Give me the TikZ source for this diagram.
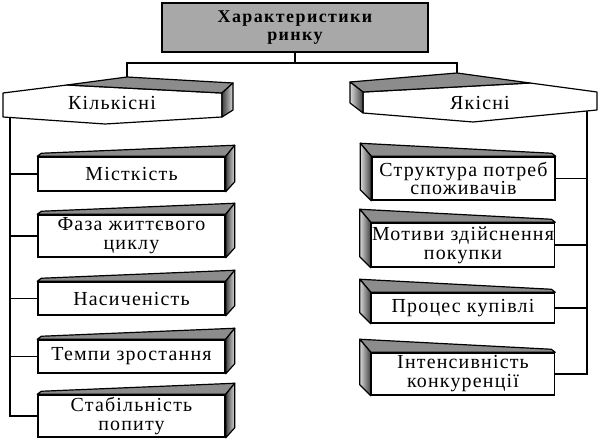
\documentclass[tikz,border=0pt]{standalone}
\usepackage{fontspec}
\setmainfont{Liberation Serif}[LetterSpace=6]
\usepackage{tikz}
\usetikzlibrary{positioning}

\tikzset{
  card/.style={draw, line width=1.5pt, fill=white, minimum width=187bp, inner sep=0pt, align=center, font=\fontsize{20}{19}\selectfont},
  rcard/.style={card, minimum width=183bp},
  topface/.style={draw, line width=1.2pt, line join=round, fill=black!45},
  sideface/.style={draw, line width=1.2pt, line join=round, left color=black!75, right color=black!15},
  lsideface/.style={draw, line width=1.2pt, line join=round, left color=black!15, right color=black!75},
  link/.style={line width=1.1pt},
}

\begin{document}
\begin{tikzpicture}[x=1bp, y=-1bp]
\useasboundingbox (0,0) rectangle (602,441);

% Title
\node at (295,27.5) (top) [draw, line width=1.5pt, fill={rgb,255:red,168;green,168;blue,168}, minimum width=266bp, minimum height=49bp, align=center, font=\bfseries\fontsize{18}{18}\selectfont\addfontfeatures{LetterSpace=8}] {Характеристики\\ринку};

% Hexagons
\filldraw[line width=1.2pt, fill=white, line join=round] (3,93) -- (67,85) -- (222,93) -- (222,117) -- (105,124) -- (3,117) -- cycle;
\draw[topface] (67,85) -- (127,77) -- (233,83) -- (222,93) -- cycle;
\draw[sideface] (222,93) -- (233,83) -- (233,110) -- (222,117) -- cycle;
\node at (112,103) (kil) [font=\fontsize{20}{19}\selectfont] {Кількісні};

\filldraw[line width=1.2pt, fill=white, line join=round] (597,92) -- (530,83) -- (363,92) -- (363,113) -- (473,122) -- (597,110) -- cycle;
\draw[topface] (530,83) -- (457,73) -- (350,82) -- (363,92) -- cycle;
\draw[lsideface] (363,92) -- (350,82) -- (350,103) -- (363,113) -- cycle;
\node at (480,103) (yak) [font=\fontsize{20}{19}\selectfont] {Якісні};

\coordinate (kiltop) at (127,77);
\coordinate (kilbot) at (10,117);
\coordinate (yaktop) at (457,73);
\coordinate (yakbot) at (587,111);
\coordinate (bus) at (295,63);

% Left cards
\node at (131.5,174) (mist) [card, minimum height=34bp] {Місткість};
\node at (131.5,236) (faza) [card, minimum height=42bp] {Фаза життєвого\\циклу};
\node at (131.5,298.5) (nas) [card, minimum height=33bp] {Насиченість};
\node at (131.5,356.5) (temp) [card, minimum height=33bp] {Темпи зростання};
\node at (131.5,416) (stab) [card, minimum height=42bp] {Стабільність\\попиту};

% Right cards
\node at (463.5,178.5) (strk) [rcard, minimum height=43bp] {Структура потреб\\споживачів};
\node at (463,245) (motv) [rcard, minimum height=44bp] {Мотиви здійснення\\покупки};
\node at (463,308) (proc) [rcard, minimum height=30bp] {Процес купівлі};
\node at (463,374) (intn) [rcard, minimum height=42bp] {Інтенсивність\\конкуренції};

% Faces
\foreach \b in {mist,faza,nas,temp,stab}{
  \draw[topface] (\b.north west) -- ++(4,-3) -- ([shift={(9,-11)}]\b.north east) -- (\b.north east) -- cycle;
  \draw[sideface] (\b.north east) -- ++(9,-11) -- ([shift={(9,-10)}]\b.south east) -- (\b.south east) -- cycle;
}
\foreach \b in {strk,motv,proc,intn}{
  \draw[topface] (\b.north east) -- ++(-4,-3) -- ([shift={(-11,-13)}]\b.north west) -- (\b.north west) -- cycle;
  \draw[lsideface] (\b.north west) -- ++(-11,-13) -- ([shift={(-11,-11)}]\b.south west) -- (\b.south west) -- cycle;
}

% Lines
\draw[link] (top.south) -- (bus);
\draw[link] (kiltop) |- (bus) -| (yaktop);
\foreach \b in {mist,faza,nas,temp,stab}
  \draw[link] (kilbot) |- (\b.west);
\foreach \b in {motv,proc,intn}
  \draw[link] (yakbot) |- (\b.east);
\draw[line width=2pt] (strk.east) -- (strk.east -| yakbot);

\end{tikzpicture}
\end{document}
